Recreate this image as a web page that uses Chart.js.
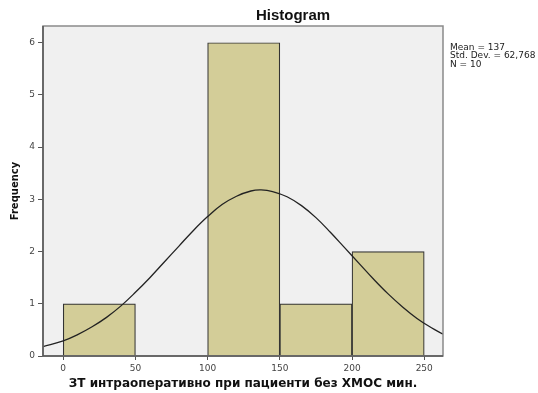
<!DOCTYPE html>
<html>
<head>
<meta charset="utf-8">
<script src="https://cdn.jsdelivr.net/npm/chart.js@4"></script>
<style>
  html, body { margin: 0; padding: 0; background: #fff; }
  #wrap { width: 538px; height: 393px; }
</style>
</head>
<body>
<div id="wrap"><canvas id="myChart" width="538" height="393"></canvas></div>
<script>
// histogram bins (bin centre, count)
const binCenters = [25, 75, 125, 175, 225];
const binCounts = [1, 0, 6, 1, 2];

// normal curve
const curveX = [-14, 0, 10, 20, 30, 40, 50, 60, 70, 80, 90, 100, 110, 120, 130, 137,
  145, 155, 165, 175, 185, 195, 205, 215, 225, 235, 245, 255, 263];
const curveY = [0.18, 0.29, 0.41, 0.56, 0.74, 0.96, 1.22, 1.5, 1.8, 2.1, 2.4, 2.67, 2.9, 3.06, 3.16, 3.18,
  3.15, 3.05, 2.88, 2.65, 2.37, 2.07, 1.77, 1.47, 1.19, 0.94, 0.72, 0.54, 0.42];

const xTicks = [0, 50, 100, 150, 200, 250];
const yTicks = [0, 1, 2, 3, 4, 5, 6];

const statLines = ["Mean = 137", "Std. Dev. = 62,768", "N = 10"];

const FONT = "'Liberation Sans', Arial, sans-serif";
const WIDE = "'DejaVu Sans', sans-serif";

//背景和外框, 標題, 統計文字
const decorPlugin = {
  id: "decor",
  beforeDraw(chart) {
    const { ctx, chartArea: a } = chart;
    ctx.save();
    ctx.fillStyle = "#f0f0f0";
    ctx.fillRect(a.left, a.top, a.right - a.left, a.bottom - a.top);
    ctx.restore();
  },
  afterDraw(chart) {
    const { ctx, chartArea: a } = chart;
    ctx.save();
    ctx.strokeStyle = "#8a8a8a";
    ctx.lineWidth = 1.5;
    ctx.strokeRect(a.left, a.top, a.right - a.left, a.bottom - a.top);
    ctx.strokeStyle = "#555";
    ctx.beginPath();
    ctx.moveTo(a.left, a.top);
    ctx.lineTo(a.left, a.bottom);
    ctx.lineTo(a.right, a.bottom);
    ctx.stroke();

    ctx.fillStyle = "#111";
    ctx.font = "bold 15px " + FONT;
    ctx.textAlign = "center";
    ctx.textBaseline = "alphabetic";
    ctx.fillText("Histogram", 293, 20);

    ctx.font = "9px " + WIDE;
    ctx.textAlign = "left";
    ctx.fillStyle = "#222";
    statLines.forEach((t, i) => {
      ctx.fillText(t, 450, 50 + i * 8.3);
    });
    ctx.restore();
  },
};

const barData = binCenters.map((c, i) => ({ x: c, y: binCounts[i] }));
const lineData = curveX.map((x, i) => ({ x: x, y: curveY[i] }));

const config = {
  type: "bar",
  data: {
    datasets: [
      {
        type: "line",
        data: lineData,
        borderColor: "#222",
        borderWidth: 1.3,
        pointRadius: 0,
        tension: 0.4,
        fill: false,
        order: 0,
      },
      {
        type: "bar",
        data: barData,
        backgroundColor: "#d3cd98",
        borderColor: "#333",
        borderWidth: 1.2,
        barPercentage: 1,
        categoryPercentage: 1,
        order: 1,
      },
    ],
  },
  options: {
    responsive: false,
    animation: false,
    layout: { padding: { top: 26, right: 95, left: 0, bottom: 0 } },
    plugins: {
      legend: { display: false },
      tooltip: { enabled: false },
    },
    scales: {
      x: {
        type: "linear",
        min: -14,
        max: 263,
        offset: false,
        afterBuildTicks: (scale) => {
          scale.ticks = xTicks.map((v) => ({ value: v }));
        },
        afterFit: (scale) => {
          scale.height = 37;
        },
        grid: { display: true, offset: false, drawOnChartArea: false, drawTicks: true, tickLength: 4, color: "#555" },
        border: { display: false },
        ticks: { color: "#444", font: { family: WIDE, size: 9 }, padding: 3, maxRotation: 0 },
        title: {
          display: true,
          text: "ЗТ интраоперативно при пациенти без ХМОС мин.",
          color: "#111",
          font: { family: WIDE, size: 12, weight: "bold" },
          padding: { top: 0, bottom: 2.4 },
        },
      },
      y: {
        min: 0,
        max: 6.32,
        afterBuildTicks: (scale) => {
          scale.ticks = yTicks.map((v) => ({ value: v }));
        },
        afterFit: (scale) => {
          scale.width = 43;
        },
        grid: { display: true, drawOnChartArea: false, drawTicks: true, tickLength: 5, color: "#555" },
        border: { display: false },
        ticks: { color: "#444", font: { family: WIDE, size: 9 }, padding: 3 },
        title: {
          display: true,
          text: "Frequency",
          color: "#111",
          font: { family: WIDE, size: 10, weight: "bold" },
          padding: { top: 9, bottom: 0 },
        },
      },
    },
  },
  plugins: [decorPlugin],
};

const ctx = document.getElementById("myChart");
const myChart = new Chart(ctx, config);
</script>
</body>
</html>
